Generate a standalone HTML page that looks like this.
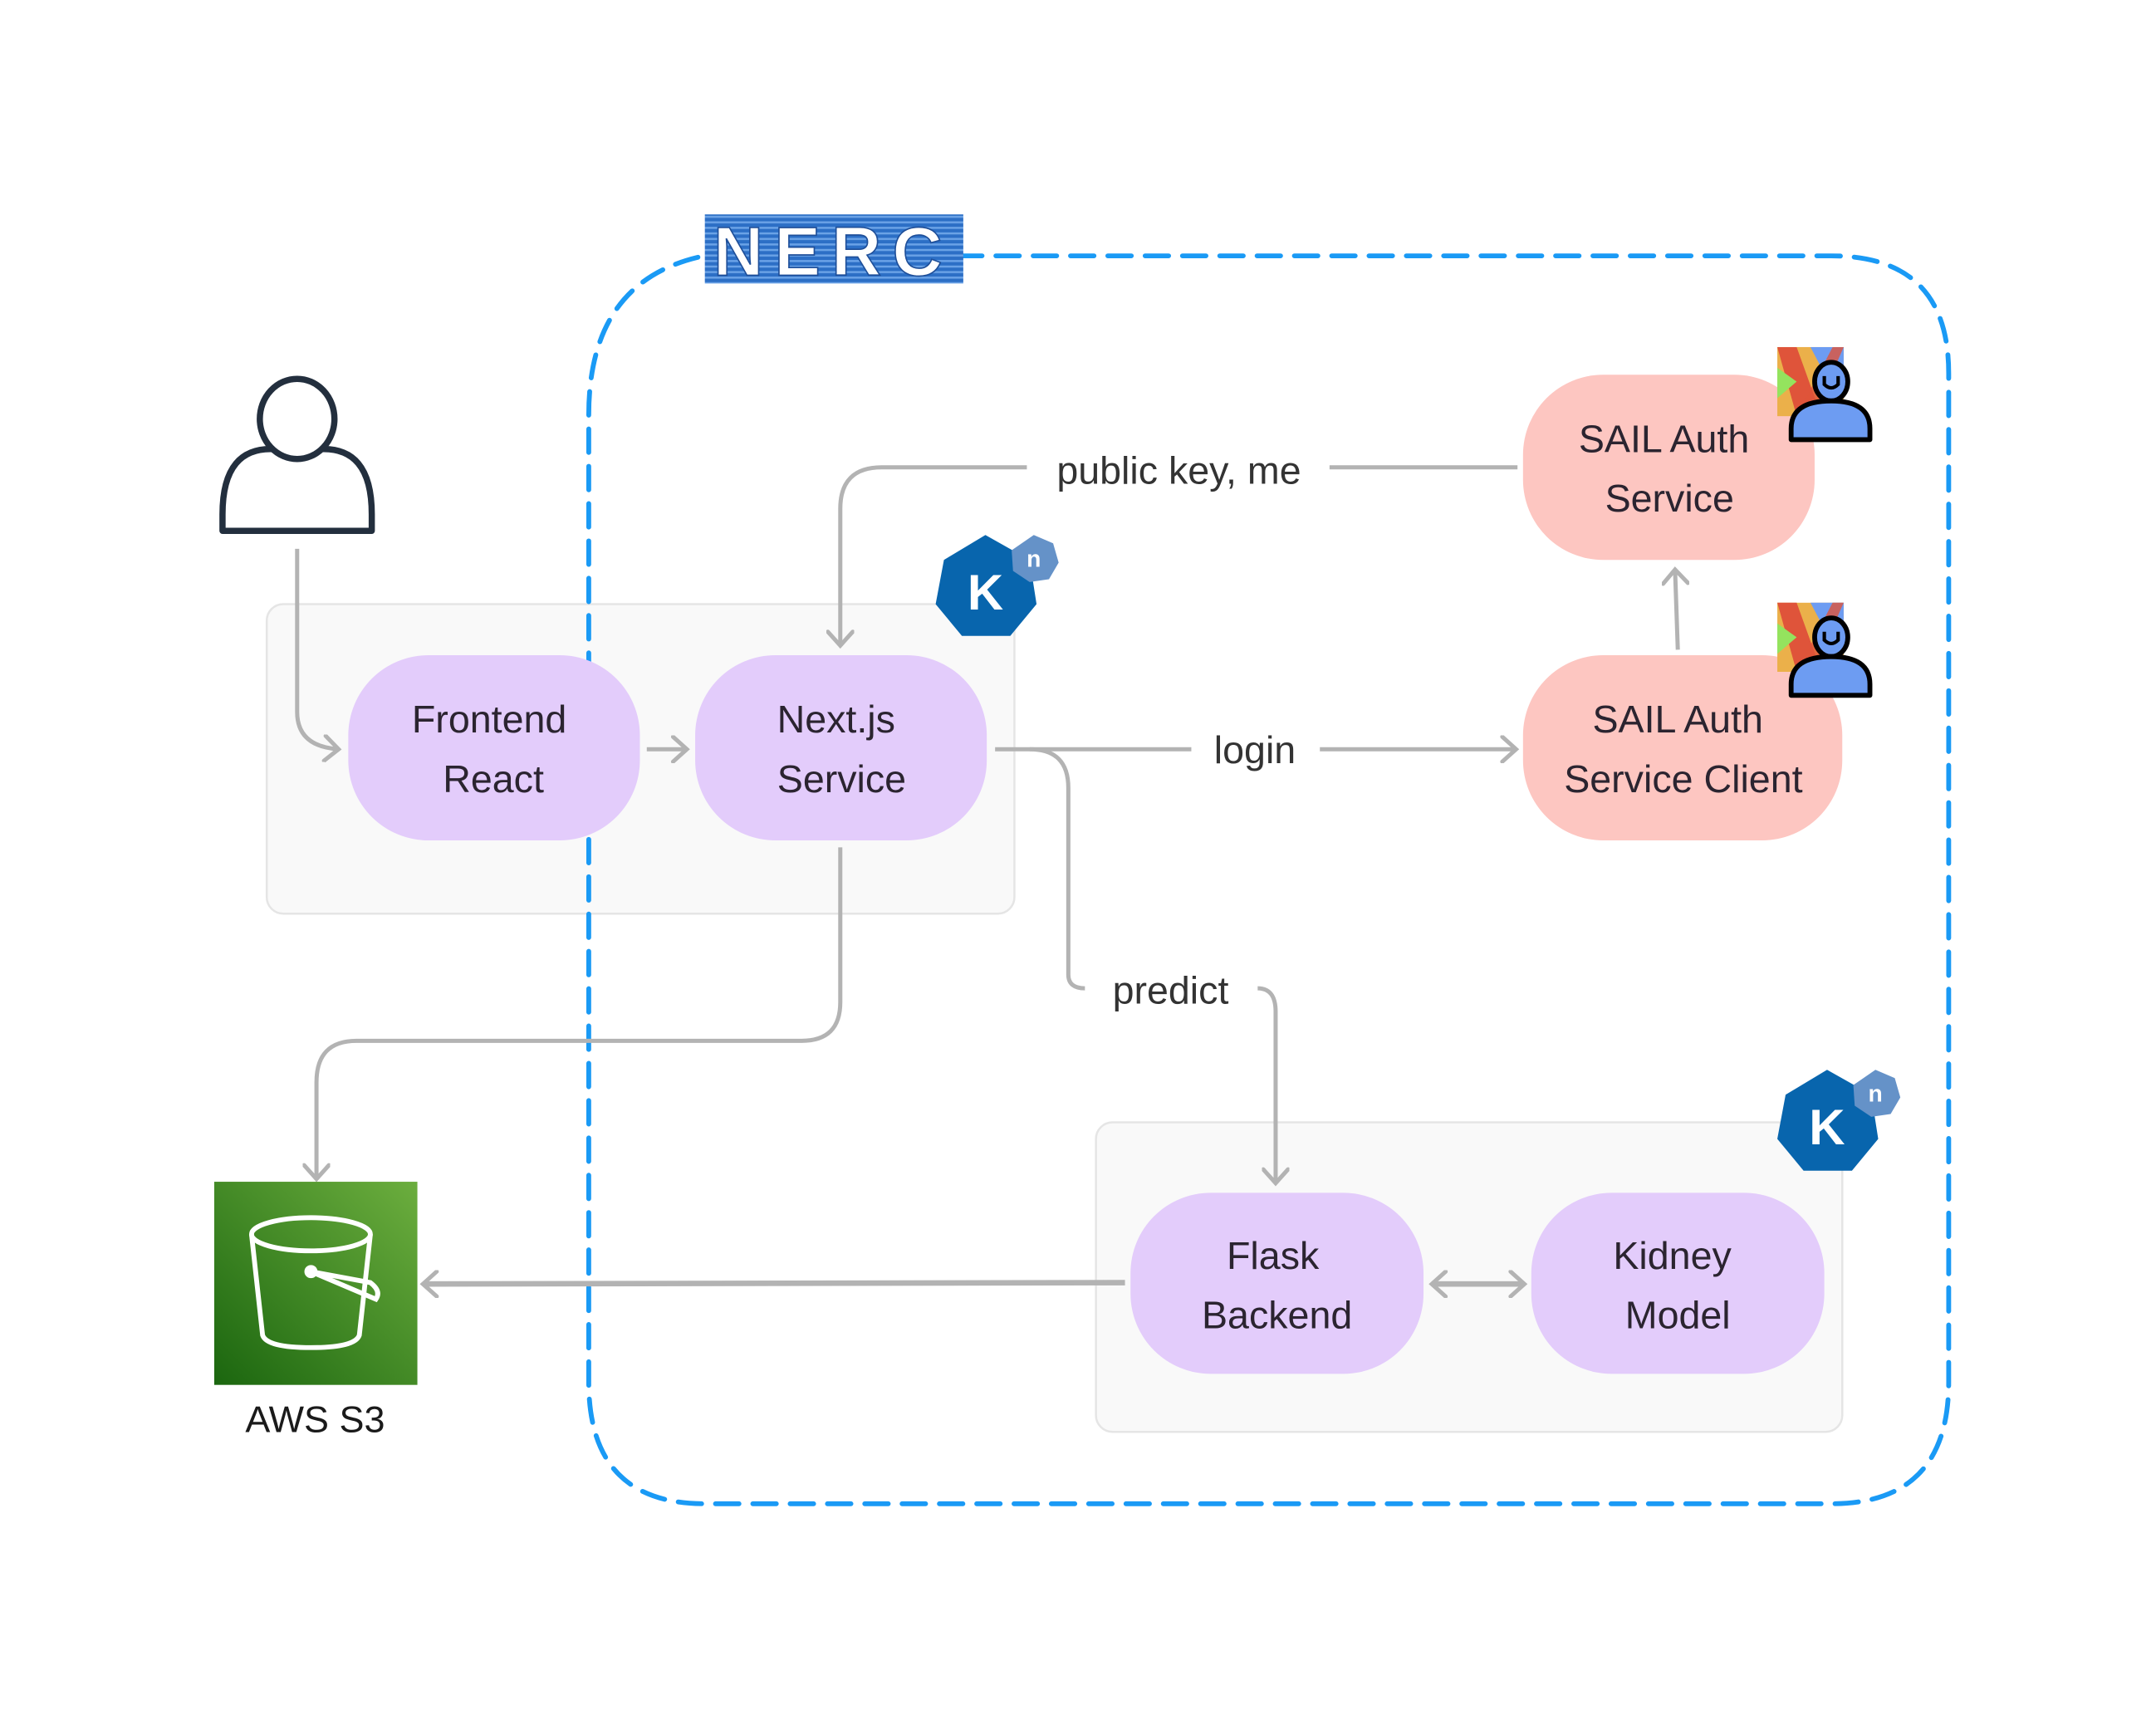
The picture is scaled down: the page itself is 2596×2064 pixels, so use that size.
<!DOCTYPE html>
<html><head><meta charset="utf-8"><style>html,body{margin:0;padding:0;background:#fff}svg{display:block}</style></head>
<body>
<svg width="2596" height="2064" viewBox="0 0 1560 1240" xmlns="http://www.w3.org/2000/svg" font-family="Liberation Sans, sans-serif">
<defs>
<linearGradient id="s3" x1="0" y1="1" x2="1" y2="0"><stop offset="0" stop-color="#1b660f"/><stop offset="1" stop-color="#6cae3e"/></linearGradient>
<pattern id="stripes" width="4" height="4" patternUnits="userSpaceOnUse"><rect width="4" height="4" fill="#2c6fc6"/><rect width="4" height="1.5" fill="#6aa2e6"/></pattern>
<marker id="ah" markerWidth="20" markerHeight="20" refX="12" refY="10" orient="auto" markerUnits="userSpaceOnUse"><path d="M2,1 L12,10 L2,19" fill="none" stroke="#b3b3b3" stroke-width="3" stroke-linecap="round"/></marker>
<marker id="as" markerWidth="20" markerHeight="20" refX="8" refY="10" orient="auto" markerUnits="userSpaceOnUse"><path d="M18,1 L8,10 L18,19" fill="none" stroke="#b3b3b3" stroke-width="3" stroke-linecap="round"/></marker>
</defs>
<rect width="1560" height="1240" fill="#fff"/>
<rect x="193" y="437" width="541" height="224" rx="12" fill="#f9f9f9" stroke="#e5e5e5" stroke-width="1.5"/>
<rect x="793" y="812" width="540" height="224" rx="12" fill="#f9f9f9" stroke="#e5e5e5" stroke-width="1.5"/>
<path d="M505,186 Q426,205 426,300 L426,1000 Q426,1088 510,1088 L1325,1088 Q1410,1088 1410,1000 L1410,270 Q1410,185 1325,185 L697,185" fill="none" stroke="#1a9af5" stroke-width="3.5" stroke-dasharray="17 10" stroke-linecap="round"/>
<rect x="510" y="155" width="187" height="50" fill="url(#stripes)"/>
<text x="603" y="199" font-size="50" font-weight="bold" fill="#fff" stroke="#1f4f99" stroke-width="1" text-anchor="middle" letter-spacing="8">NERC</text>
<g fill="none" stroke="#232f3e" stroke-width="4.5" stroke-linejoin="round">
<path d="M161,384 L161,372 Q161,322 200,325 Q215,336 230,325 Q269,322 269,372 L269,384 Z"/>
<ellipse cx="215" cy="303" rx="27" ry="29" fill="#fff"/>
</g>
<g fill="none" stroke="#b3b3b3" stroke-width="3">
<path d="M215,397 L215,515 Q215,540 245,542" marker-end="url(#ah)"/>
<path d="M468,542 L497,542" marker-end="url(#ah)"/>
<path d="M1098,338 L962,338"/>
<path d="M743,338 L638,338 Q608,338 608,368 L608,467" marker-end="url(#ah)"/>
<path d="M720,542 L862,542"/>
<path d="M955,542 L1097,542" marker-end="url(#ah)"/>
<path d="M1214,470 L1212,412" marker-end="url(#ah)"/>
<path d="M745,542 Q773,542 773,570 L773,705 Q773,715 785,715"/>
<path d="M910,715 Q923,715 923,732 L923,856" marker-end="url(#ah)"/>
<path d="M608,613 L608,725 Q608,753 580,753 L258,753 Q229,753 229,783 L229,853" marker-end="url(#ah)"/>
<path d="M814,928 L306,929" stroke-width="4" marker-end="url(#ah)"/>
<path d="M1036,929 L1103,929" stroke-width="4" marker-start="url(#as)" marker-end="url(#ah)"/>
</g>
<g font-size="28" fill="#333" text-anchor="middle">
<text x="853" y="350">public key, me</text>
<text x="908" y="552">login</text>
<text x="847" y="726">predict</text>
</g>
<g font-size="28" fill="#2b2430" text-anchor="middle">
<rect x="252" y="474" width="211" height="134" rx="58" fill="#e3ccfb"/>
<text x="354" y="530">Frontend</text><text x="357" y="573">React</text>
<rect x="503" y="474" width="211" height="134" rx="58" fill="#e3ccfb"/>
<text x="605" y="530">Next.js</text><text x="609" y="573">Service</text>
<rect x="1102" y="271" width="211" height="134" rx="58" fill="#fdc6c1"/>
<text x="1204" y="327">SAIL Auth</text><text x="1208" y="370">Service</text>
<rect x="1102" y="474" width="231" height="134" rx="58" fill="#fdc6c1"/>
<text x="1214" y="530">SAIL Auth</text><text x="1218" y="573">Service Client</text>
<rect x="818" y="863" width="212" height="131" rx="58" fill="#e3ccfb"/>
<text x="921" y="918">Flask</text><text x="924" y="961">Backend</text>
<rect x="1108" y="863" width="212" height="131" rx="58" fill="#e3ccfb"/>
<text x="1210" y="918">Kidney</text><text x="1214" y="961">Model</text>
</g>
<g id="kn">
<polygon points="713,387 745,405 750,437 731,460 696,460 677,437 683,405" fill="#0865ad"/>
<text x="713" y="441" font-size="36" font-weight="bold" fill="#fff" text-anchor="middle">K</text>
<polygon points="748,387 762,393 766,407 759,419 745,421 733,413 732,398" fill="#6592c8"/>
<text x="748" y="410" font-size="17" font-weight="bold" fill="#fff" text-anchor="middle">n</text>
</g>
<use href="#kn" x="609" y="387"/>
<g id="sail">
<rect x="1286" y="251" width="48" height="50" fill="#ebb04a"/>
<polygon points="1286,251 1300,251 1318,301 1300,301" fill="#df543a"/>
<polygon points="1286,266 1300,276 1286,288" fill="#94e35e"/>
<polygon points="1310,251 1334,251 1334,270 1320,270" fill="#6d9cf2"/>
<polygon points="1334,251 1326,251 1300,301 1312,301" fill="#df543a" opacity="0.8"/>
<ellipse cx="1325" cy="276" rx="12" ry="14" fill="#6d9cf2" stroke="#000" stroke-width="3.5"/>
<path d="M1320,272 L1320,278 Q1325,283 1330,278 L1330,272" fill="none" stroke="#000" stroke-width="2.5"/>
<path d="M1296,318 L1296,310 Q1296,290 1325,290 Q1353,290 1353,310 L1353,318 Z" fill="#6d9cf2" stroke="#000" stroke-width="3.5" stroke-linejoin="round"/>
</g>
<use href="#sail" x="0" y="185"/>
<rect x="155" y="855" width="147" height="147" fill="url(#s3)"/>
<g fill="none" stroke="#fff" stroke-width="3.5">
<ellipse cx="225" cy="893" rx="43" ry="12"/>
<path d="M182,893 L190,966 Q193,975 225,975 Q257,975 260,966 L268,893"/>
<path d="M225,920 L272,940 Q276,934 268,928 Z"/>
<circle cx="225" cy="920" r="3" fill="#fff"/>
</g>
<text x="228" y="1036" font-size="27" fill="#1a1a1a" text-anchor="middle">AWS S3</text>
</svg>
</body></html>
